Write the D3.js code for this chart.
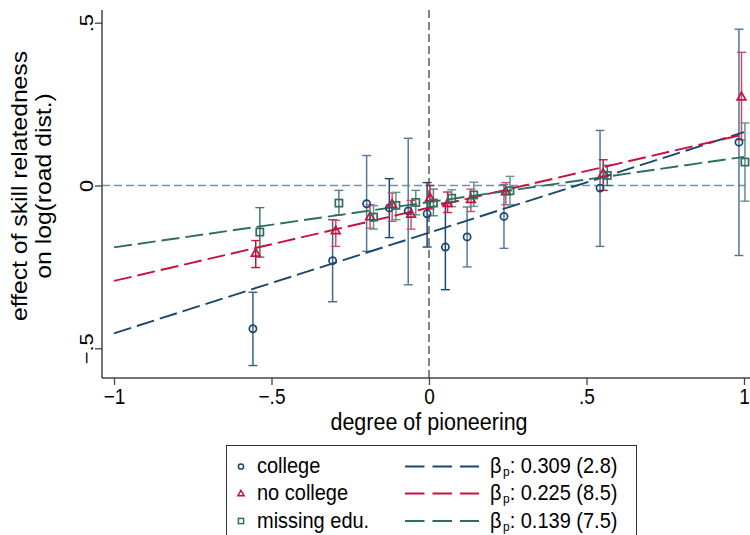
<!DOCTYPE html>
<html><head><meta charset="utf-8">
<script src="https://cdn.jsdelivr.net/npm/d3@7"></script>
<style>body{margin:0;background:#fff}svg{display:block;font-family:"Liberation Sans",Arial,sans-serif}</style>
</head><body><svg id="c" width="750" height="535"></svg>
<script>
const groups = ["college", "no college", "missing edu."];
const slopes = [0.309, 0.225, 0.139];
const intercepts = [-0.145, -0.068, -0.051];
const tstats = ["2.8", "8.5", "7.5"];
const xTicks = [-1, -0.5, 0, 0.5, 1];
const xTickLabels = ["\u22121", "\u2212.5", "0", ".5", "1"];
const yTicks = [-0.5, 0, 0.5];
const yTickLabels = ["\u2212.5", "0", ".5"];

const collegeX  = [-0.559,-0.306,-0.198,-0.126,-0.066,-0.006,0.052,0.121,0.238,0.543,0.984];
const collegeY  = [-0.440,-0.231,-0.056,-0.069,-0.078,-0.087,-0.189,-0.158,-0.095,-0.008,0.133];
const collegeLo = [-0.553,-0.357,-0.202,-0.160,-0.305,-0.189,-0.320,-0.250,-0.193,-0.187,-0.215];
const collegeHi = [-0.328,-0.105,0.092,0.021,0.145,0.009,-0.054,-0.066,0.003,0.169,0.480];
const collegePrecise = [0.75,0.7,0.5,1,0.5,1,1,0.5,0.5,0.55,0.55];

const noCollX  = [-0.550,-0.296,-0.187,-0.117,-0.057,0.003,0.059,0.133,0.244,0.553,0.992];
const noCollY  = [-0.207,-0.138,-0.095,-0.057,-0.087,-0.037,-0.054,-0.042,-0.018,0.038,0.273];
const noCollLo = [-0.252,-0.187,-0.131,-0.110,-0.134,-0.072,-0.083,-0.080,-0.059,-0.015,0.140];
const noCollHi = [-0.169,-0.107,-0.059,-0.023,-0.046,0.000,-0.020,-0.011,0.009,0.079,0.409];
const noCollPrecise = [1,0.55,0.55,0.55,0.55,1,0.85,0.55,0.55,1,0.6];

const missX  = [-0.537,-0.286,-0.176,-0.105,-0.042,0.014,0.072,0.142,0.257,0.566,1.003];
const missY  = [-0.143,-0.054,-0.097,-0.061,-0.052,-0.054,-0.039,-0.029,-0.016,0.031,0.072];
const missLo = [-0.220,-0.090,-0.134,-0.105,-0.090,-0.093,-0.065,-0.064,-0.059,0.000,-0.048];
const missHi = [-0.068,-0.015,-0.062,-0.021,-0.015,-0.011,-0.013,0.010,0.028,0.062,0.192];
const missPrecise = [0.85,0.7,0.5,0.5,0.6,0.7,0.5,0.5,0.5,0.9,0.55];

const colors = ["#1a476f", "#c8103c", "#2e6e5e"];
const series = [
  {x: collegeX, y: collegeY, lo: collegeLo, hi: collegeHi, p: collegePrecise, sym: "circle"},
  {x: noCollX, y: noCollY, lo: noCollLo, hi: noCollHi, p: noCollPrecise, sym: "triangle"},
  {x: missX, y: missY, lo: missLo, hi: missHi, p: missPrecise, sym: "square"}
];

const svg = d3.select("#c");
const xs = d3.scaleLinear().domain([-1, 1]).range([114, 744]);
const ys = d3.scaleLinear().domain([-0.5, 0.5]).range([348.3, 22.7]);
const pL = 102, pR = 750, pT = 10, pB = 378;
const axisCol = "#444";
const SY = 1.15; // vertical text stretch

// reference lines
svg.append("line").attr("x1", pL).attr("x2", pR).attr("y1", ys(0)).attr("y2", ys(0))
  .attr("stroke", "#7390ad").attr("stroke-width", 1.5).attr("stroke-dasharray", "8,4");
svg.append("line").attr("x1", xs(0)).attr("x2", xs(0)).attr("y1", pT).attr("y2", pB)
  .attr("stroke", "#444").attr("stroke-width", 1.3).attr("stroke-dasharray", "8,4");

// error bars
series.forEach((s, gi) => {
  const g = svg.append("g");
  s.x.forEach((xv, i) => {
    const op = s.p[i];
    const c = d3.interpolateRgb("#ffffff", colors[gi])(0.45 + 0.55 * op);
    const x = xs(xv);
    g.append("line").attr("x1", x).attr("x2", x).attr("y1", ys(s.lo[i])).attr("y2", ys(s.hi[i]))
      .attr("stroke", c).attr("stroke-width", 1.5);
    [s.lo[i], s.hi[i]].forEach(v => g.append("line").attr("x1", x - 4.5).attr("x2", x + 4.5)
      .attr("y1", ys(v)).attr("y2", ys(v)).attr("stroke", c).attr("stroke-width", 1.4));
  });
});

// fitted lines
const line = d3.line().x(d => xs(d[0])).y(d => ys(d[1]));
slopes.forEach((b, gi) => {
  svg.append("path").attr("d", line([-1, 1].map(x => [x, intercepts[gi] + b * x])))
    .attr("fill", "none").attr("stroke", colors[gi]).attr("stroke-width", 1.9)
    .attr("stroke-dasharray", "18,6");
});

// markers
function drawMarker(g, sym, x, y, size, col, sw) {
  if (sym === "circle") g.append("circle").attr("cx", x).attr("cy", y).attr("r", size)
    .attr("fill", "none").attr("stroke", col).attr("stroke-width", sw);
  else if (sym === "square") g.append("rect").attr("x", x - size).attr("y", y - size)
    .attr("width", 2 * size).attr("height", 2 * size).attr("fill", "none").attr("stroke", col).attr("stroke-width", sw);
  else {
    const h = size * 1.2;
    g.append("path").attr("d", `M${x},${y - h}L${x + h},${y + h * 0.75}L${x - h},${y + h * 0.75}Z`)
      .attr("fill", "none").attr("stroke", col).attr("stroke-width", sw);
  }
}
series.forEach((s, gi) => {
  const g = svg.append("g");
  s.x.forEach((xv, i) => drawMarker(g, s.sym, xs(xv), ys(s.y[i]), 3.6, colors[gi], 1.7));
});

// axes
const ax = svg.append("g").attr("transform", `translate(0,${pB})`)
  .call(d3.axisBottom(xs).tickValues(xTicks).tickSize(7).tickFormat((d, i) => xTickLabels[i]));
ax.select(".domain").remove();
ax.append("line").attr("x1", pL).attr("x2", pR).attr("stroke", axisCol).attr("stroke-width", 1.5);
ax.selectAll(".tick line").attr("stroke", axisCol).attr("stroke-width", 1.3);
ax.selectAll(".tick text").attr("font-size", 19).attr("fill", "#000")
  .attr("font-family", "Liberation Sans, Arial, sans-serif")
  .attr("y", 0).attr("dy", null).attr("transform", `translate(0,26) scale(1,${SY})`);

const ay = svg.append("g").attr("transform", `translate(${pL},0)`)
  .call(d3.axisLeft(ys).tickValues(yTicks).tickSize(7).tickFormat((d, i) => yTickLabels[i]));
ay.select(".domain").remove();
ay.append("line").attr("y1", pT).attr("y2", pB).attr("stroke", axisCol).attr("stroke-width", 1.5);
ay.selectAll(".tick line").attr("stroke", axisCol).attr("stroke-width", 1.3);
ay.selectAll(".tick text").attr("font-size", 19).attr("fill", "#000")
  .attr("font-family", "Liberation Sans, Arial, sans-serif")
  .attr("x", 0).attr("y", 0).attr("dy", null).attr("text-anchor", "middle")
  .attr("transform", `translate(-9,0) scale(1,${SY}) rotate(-90)`);

// axis titles
svg.append("text").attr("transform", `translate(429,430) scale(1,${SY})`).attr("text-anchor", "middle")
  .attr("font-size", 21.5).text("degree of pioneering");
const yt = svg.append("text").attr("transform", `translate(27,186) scale(1,${SY}) rotate(-90)`)
  .attr("text-anchor", "middle").attr("font-size", 21.5);
yt.append("tspan").attr("x", 0).attr("dy", 0).text("effect of skill relatedness");
yt.append("tspan").attr("x", 0).attr("dy", 24).text("on log(road dist.)");

// legend
const lg = svg.append("g");
lg.append("rect").attr("x", 226.5).attr("y", 445.5).attr("width", 410).attr("height", 100)
  .attr("fill", "#fff").attr("stroke", "#333").attr("stroke-width", 1);
const rowY = [466.5, 493.5, 521];
groups.forEach((name, gi) => {
  const y = rowY[gi];
  drawMarker(lg, series[gi].sym, 241, y, 2.6, colors[gi], 1.5);
  lg.append("text").attr("transform", `translate(257,${y + 6.5}) scale(1,1.08)`).attr("font-size", 20).text(name);
  lg.append("line").attr("x1", 405).attr("x2", 479).attr("y1", y).attr("y2", y)
    .attr("stroke", colors[gi]).attr("stroke-width", 1.9).attr("stroke-dasharray", "19.5,8");
  const t = lg.append("text").attr("transform", `translate(490,${y + 6.5}) scale(1,1.08)`).attr("font-size", 20);
  t.append("tspan").text("\u03b2");
  t.append("tspan").attr("font-size", 12).attr("dy", 3).attr("dx", 1.5).text("p");
  t.append("tspan").attr("dy", -3).text(": " + slopes[gi].toFixed(3) + " (" + tstats[gi] + ")");
});
</script></body></html>
